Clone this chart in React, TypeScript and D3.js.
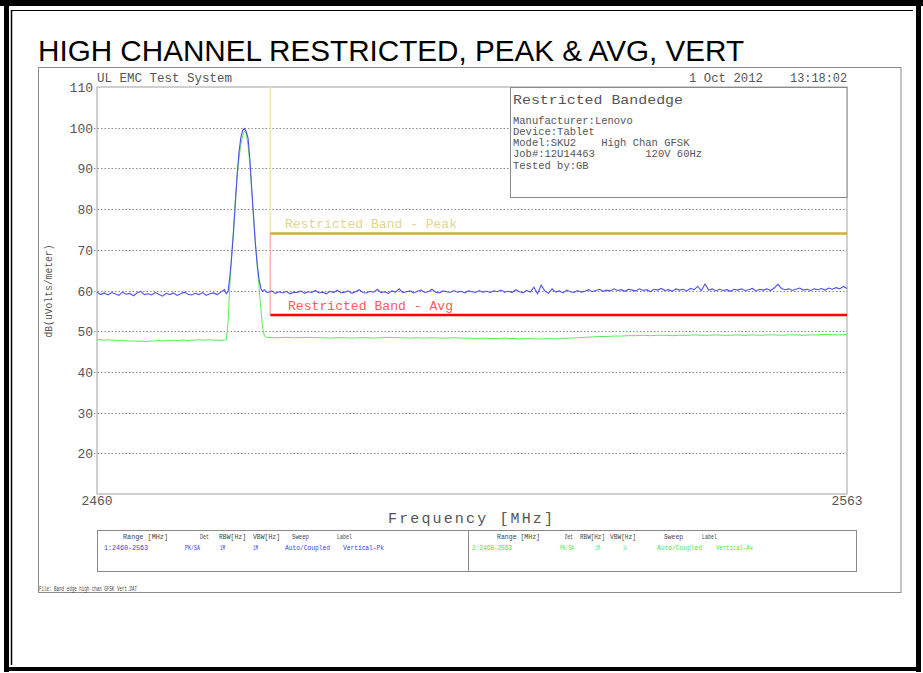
import React from 'react';
import * as d3 from 'd3';

// sweep grid of the analyser (MHz)
const freqA = d3.range(2460, 2477.51, 0.5);
const peakFreqs = d3.range(2477.75, 2483.26, 0.25);
const freqB = d3.range(2483.5, 2563.01, 0.5);
const greenFreqB = d3.range(2484, 2563.01, 1);

// trace 1: Vertical-Pk (blue), dBuV/m
const blueA = [
  59.6, 59.0, 59.4, 58.9, 59.5, 59.2, 58.8, 59.6, 59.1, 59.3,
  58.7, 59.4, 59.8, 59.0, 59.2, 58.9, 59.5, 59.1, 58.6, 59.3,
  59.0, 59.4, 58.8, 59.2, 59.6, 59.1, 58.9, 59.3, 59.0, 59.5,
  58.8, 59.2, 59.4, 59.0, 59.6, 60.2,
];
const bluePeak = [
  59.2, 59.8, 63.5, 68.4, 74.5, 81.5, 88.5, 94.0, 97.5, 99.3,
  99.8, 99.0, 97.4, 92.0, 85.0, 78.0, 71.5, 66.5, 62.8, 60.5,
  59.8, 60.2, 59.6,
];
const blueB = [
  59.5, 59.9, 59.3, 59.7, 59.4, 59.8, 59.2, 59.6, 59.5, 59.9,
  59.3, 59.7, 59.5, 60.0, 59.4, 59.6, 59.2, 59.8, 59.5, 60.1,
  59.4, 59.6, 59.9, 59.3, 59.7, 60.2, 59.5, 59.4, 59.8, 59.6,
  60.3, 59.5, 59.7, 59.3, 59.9, 59.6, 60.4, 59.5, 59.7, 59.9,
  59.4, 59.8, 60.1, 59.5, 59.7, 60.3, 59.6, 59.4, 59.9, 59.7,
  59.5, 60.0, 59.6, 59.8, 59.4, 59.9, 59.7, 59.5, 60.0, 59.6,
  59.8, 59.5, 59.9, 59.7, 60.1, 59.6, 59.8, 59.5, 60.2, 59.7,
  59.4, 60.0, 59.6, 60.8, 59.2, 61.3, 59.9, 59.3, 60.4, 59.6,
  59.9, 59.4, 60.1, 59.7, 59.5, 60.0, 59.6, 59.8, 60.2, 59.7,
  60.0, 60.3, 59.8, 60.1, 59.9, 60.4, 60.0, 60.2, 59.8, 60.3,
  60.1, 59.9, 60.4, 60.0, 60.2, 59.7, 60.3, 60.1, 60.5, 60.0,
  60.2, 59.8, 60.4, 60.1, 60.3, 59.9, 60.5, 60.2, 61.0, 60.0,
  61.6, 60.1, 60.4, 59.9, 60.3, 60.0, 60.2, 59.8, 60.3, 60.1,
  60.4, 60.0, 60.2, 60.5, 59.9, 60.3, 60.1, 60.4, 60.0, 60.6,
  61.5, 60.5, 60.2, 60.4, 60.0, 60.3, 60.6, 60.1, 60.3, 60.0,
  60.4, 60.2, 60.5, 60.1, 60.6, 60.3, 60.7, 60.4, 61.0, 60.5,
];

// trace 2: Vertical-Av (green)
const greenA = [
  47.9, 47.9, 47.8, 47.9, 47.8, 47.8, 47.7, 47.8, 47.7, 47.6,
  47.6, 47.5, 47.6, 47.5, 47.5, 47.6, 47.6, 47.7, 47.6, 47.7,
  47.7, 47.8, 47.7, 47.8, 47.8, 47.7, 47.8, 47.8, 47.9, 47.8,
  47.8, 47.9, 47.8, 47.8, 47.7, 47.8,
];
const greenPeak = [
  47.9, 52.0, 61.5, 69.0, 75.0, 82.5, 88.0, 92.5, 95.8, 98.0,
  99.1, 98.6, 95.5, 90.8, 84.5, 78.3, 72.0, 66.0, 61.0, 55.5,
  50.8, 48.8, 48.5,
];
const greenB = [
  48.4, 48.4, 48.5, 48.4, 48.4, 48.5, 48.4, 48.4, 48.3, 48.4,
  48.4, 48.3, 48.4, 48.4, 48.3, 48.4, 48.5, 48.4, 48.4, 48.3,
  48.4, 48.3, 48.4, 48.3, 48.3, 48.4, 48.3, 48.3, 48.2, 48.3,
  48.2, 48.2, 48.3, 48.2, 48.1, 48.2, 48.1, 48.1, 48.2, 48.1,
  48.2, 48.3, 48.4, 48.5, 48.6, 48.7, 48.7, 48.8, 48.8, 48.9,
  48.9, 49.0, 48.9, 49.0, 49.0, 48.9, 49.0, 49.0, 49.1, 49.0,
  49.0, 49.1, 49.0, 49.0, 49.1, 49.0, 49.1, 49.0, 49.1, 49.1,
  49.0, 49.1, 49.1, 49.0, 49.1, 49.1, 49.2, 49.1, 49.1, 49.2,
];

// limits
const bandStart = 2483.8;
const bandEnd = 2563;
const peakLimit = 74;
const avgLimit = 54;

const yTicks = [20, 30, 40, 50, 60, 70, 80, 90, 100, 110];
const gridLines = [20, 30, 40, 50, 60, 70, 80, 90, 100];

const infoLines = [
  'Manufacturer:Lenovo',
  'Device:Tablet',
  'Model:SKU2    High Chan GFSK',
  'Job#:12U14463        120V 60Hz',
  'Tested by:GB',
];

const mono = "'Liberation Mono', 'DejaVu Sans Mono', monospace";
const sans = "'Liberation Sans', Arial, sans-serif";

export default function App() {
  const left = 97, right = 847, top = 87, bottom = 494;
  const x = d3.scaleLinear().domain([2460, 2563]).range([left, right]);
  const y = d3.scaleLinear().domain([10, 110]).range([bottom, top]);

  const zip = (fs: number[], vs: number[]) => fs.map((f, i) => [f, vs[i]] as [number, number]);
  const blue = [...zip(freqA, blueA), ...zip(peakFreqs, bluePeak), ...zip(freqB, blueB)];
  const green = [...zip(freqA, greenA), ...zip(peakFreqs, greenPeak), ...zip(greenFreqB, greenB)];
  const line = d3.line<[number, number]>().x(d => x(d[0])).y(d => y(d[1]));

  const hdr = (items: [string, number, number][], yy: number, fill: string) =>
    items.map(([t, xx, w], i) => (
      <text key={t + i} x={xx} y={yy} fontFamily={mono} fontSize={7.6} fill={fill}
        textLength={w} lengthAdjust="spacingAndGlyphs">{t}</text>
    ));

  return (
    <div style={{ position: 'absolute', left: 0, top: 0 }}>
      <svg width={923} height={673} style={{ display: 'block', background: '#fff' }}>
        {/* page frame */}
        <rect x={0} y={0} width={923} height={6} fill="#000" />
        <rect x={4} y={0} width={5} height={672} fill="#000" />
        <rect x={916} y={0} width={5} height={672} fill="#000" />
        <rect x={4} y={667} width={917} height={4} fill="#000" />
        <line x1={11.5} y1={10} x2={11.5} y2={665} stroke="#000" strokeWidth={1.5} />
        <line x1={11} y1={10.5} x2={913} y2={10.5} stroke="#000" strokeWidth={1} />

        <text x={38} y={61} fontFamily={sans} fontSize={30} textLength={706}
          lengthAdjust="spacingAndGlyphs" fill="#000">HIGH CHANNEL RESTRICTED, PEAK &amp; AVG, VERT</text>

        {/* outer plot box */}
        <rect x={38.5} y={67.5} width={862.5} height={525} fill="none" stroke="#8a8a8a" />

        <text x={97} y={82} fontFamily={mono} fontSize={12} fill="#555" textLength={135}
          lengthAdjust="spacingAndGlyphs">UL EMC Test System</text>
        <text x={689} y={82} fontFamily={mono} fontSize={12} fill="#555" textLength={74}
          lengthAdjust="spacingAndGlyphs">1 Oct 2012</text>
        <text x={790} y={82} fontFamily={mono} fontSize={12} fill="#555" textLength={57}
          lengthAdjust="spacingAndGlyphs">13:18:02</text>

        {/* grid */}
        {gridLines.map(v => (
          <line key={v} x1={left - 3} x2={right} y1={Math.round(y(v)) + 0.5} y2={Math.round(y(v)) + 0.5}
            stroke="#8a8a8a" strokeDasharray="1.5,2" />
        ))}
        {yTicks.map(v => (
          <text key={v} x={93} y={y(v) + 5} textAnchor="end" fontFamily={mono} fontSize={13}
            fill="#555">{v}</text>
        ))}
        <text transform={`translate(52,${291}) rotate(-90)`} textAnchor="middle" fontFamily={mono}
          fontSize={10} fill="#555" textLength={93} lengthAdjust="spacingAndGlyphs">dB(uVolts/meter)</text>

        <rect x={left} y={top} width={right - left} height={bottom - top} fill="none" stroke="#a0a0a0" />

        {/* info box */}
        <rect x={510.5} y={top + 0.5} width={right - 510.5} height={110} fill="#fff" stroke="#8a8a8a" />
        <text x={513} y={104} fontFamily={mono} fontSize={13} fill="#555" textLength={170}
          lengthAdjust="spacingAndGlyphs">Restricted Bandedge</text>
        {infoLines.map((t, i) => (
          <text key={t} x={513} y={123.5 + i * 11.3} fontFamily={mono} fontSize={10.5} fill="#555"
            xmlSpace="preserve" style={{ whiteSpace: 'pre' }}>{t}</text>
        ))}

        {/* limit lines */}
        <line x1={x(bandStart)} x2={x(bandStart)} y1={top} y2={y(peakLimit)} stroke="#f0e6b4" strokeWidth={1.5} />
        <line x1={x(bandStart)} x2={x(bandStart)} y1={y(peakLimit)} y2={y(avgLimit)} stroke="#ffb4b4" strokeWidth={1.5} />
        <line x1={x(bandStart)} x2={x(bandEnd)} y1={y(peakLimit)} y2={y(peakLimit)} stroke="#cdb22a" strokeWidth={2.5} />
        <line x1={x(bandStart)} x2={x(bandEnd)} y1={y(avgLimit)} y2={y(avgLimit)} stroke="#ff0000" strokeWidth={2.5} />
        <text x={285} y={228} fontFamily={mono} fontSize={12} fill="#e3d58e" textLength={172}
          lengthAdjust="spacingAndGlyphs">Restricted Band - Peak</text>
        <text x={288} y={310} fontFamily={mono} fontSize={12} fill="#ff5a5a" textLength={165}
          lengthAdjust="spacingAndGlyphs">Restricted Band - Avg</text>

        {/* traces */}
        <path d={line(green) || ''} fill="none" stroke="#5ee85e" strokeWidth={1} />
        <path d={line(blue) || ''} fill="none" stroke="#5050ec" strokeWidth={1.1} />

        {/* x axis */}
        <text x={x(2460)} y={505} textAnchor="middle" fontFamily={mono} fontSize={13} fill="#555">2460</text>
        <text x={x(2563)} y={505} textAnchor="middle" fontFamily={mono} fontSize={13} fill="#555">2563</text>
        <text x={388} y={523} fontFamily={mono} fontSize={15} fill="#555" textLength={165}
          lengthAdjust="spacing">Frequency [MHz]</text>

        {/* sweep legend */}
        <rect x={97.5} y={530.5} width={759} height={41} fill="none" stroke="#8a8a8a" />
        <line x1={468.5} x2={468.5} y1={530.5} y2={571.5} stroke="#8a8a8a" />
        {hdr([['Range [MHz]', 123, 45], ['Det', 200, 9], ['RBW[Hz]', 219, 27], ['VBW[Hz]', 253, 27],
          ['Sweep', 292, 17], ['Label', 337, 15]], 539, '#444')}
        {hdr([['1:2460-2563', 104, 44], ['PK/SA', 185, 15], ['1M', 220, 5], ['1M', 253, 5],
          ['Auto/Coupled', 285, 45], ['Vertical-Pk', 343, 41]], 550, '#3a3aff')}
        {hdr([['Range [MHz]', 497, 43], ['Det', 565, 8], ['RBW[Hz]', 580, 25], ['VBW[Hz]', 610, 26],
          ['Sweep', 664, 19], ['Label', 702, 15]], 539, '#444')}
        {hdr([['2:2460-2563', 472, 40], ['PK/SA', 560, 14], ['1M', 595, 5], ['1k', 623, 4],
          ['Auto/Coupled', 657, 45], ['Vertical-Av', 716, 37]], 550, '#44e844')}

        <text x={39} y={591} fontFamily={mono} fontSize={8} fill="#444" textLength={98}
          lengthAdjust="spacingAndGlyphs">File: Band edge high chan GFSK Vert.DAT</text>
      </svg>
    </div>
  );
}
